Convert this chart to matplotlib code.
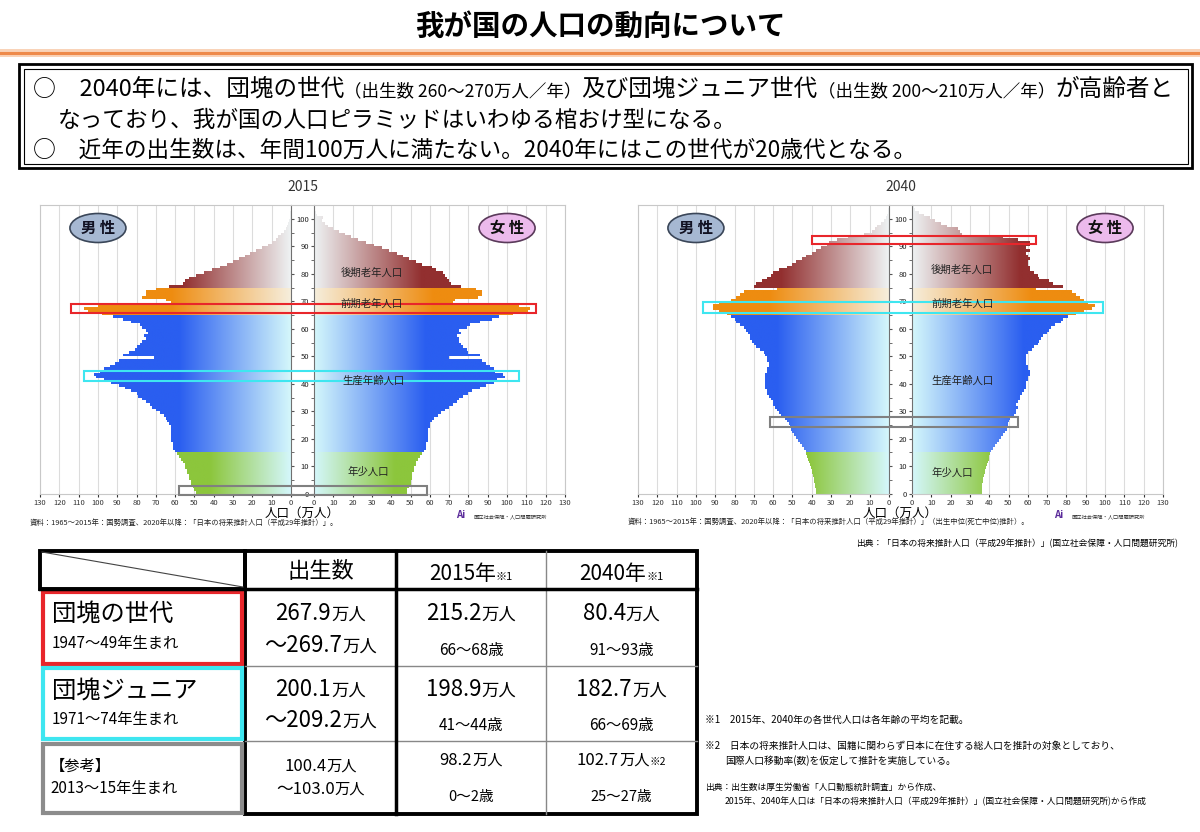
import numpy as np
import matplotlib
matplotlib.use('Agg')
import matplotlib.pyplot as plt
from matplotlib.patches import Rectangle, Ellipse, PathPatch
from matplotlib.path import Path
from matplotlib.colors import LinearSegmentedColormap

plt.rcParams['font.family'] = ['Noto Sans CJK JP', 'DejaVu Sans']

# population by single year of age (万人), ages 0..104
ages = np.arange(105)

male_2015 = [49, 50, 51, 52, 52, 53, 53, 54, 54, 55, 55, 56, 57, 58, 59,
             60, 61, 61, 61, 62, 62, 62, 62, 62, 62,
             63, 64, 65, 66, 68, 70, 72, 73, 75, 77,
             79, 80, 83, 86, 89, 93, 97, 101, 102, 99,
             97, 94, 91, 89, 71, 87, 84, 81, 80, 78,
             77, 75, 76, 74, 75, 77, 78, 83, 87, 92,
             98, 105, 107, 100, 62, 65, 77, 75, 75, 70,
             63, 56, 55, 53, 49, 45, 41, 37, 33, 30, 27, 24, 21, 18, 15,
             12, 10, 8, 6.5, 5, 3.8, 2.8, 2.0, 1.4, 1.0, 0.7, 0.4, 0.3, 0.2, 0.1]
female_2015 = [48, 48, 49, 50, 50, 51, 51, 51, 52, 52, 53, 53, 54, 55, 56,
               57, 58, 58, 58, 59, 59, 59, 59, 59, 60,
               60, 61, 62, 64, 66, 68, 70, 72, 74, 75,
               77, 80, 82, 86, 89, 93, 95, 99, 98, 94,
               93, 91, 89, 87, 70, 86, 80, 79, 77, 76,
               75, 75, 74, 76, 75, 79, 81, 86, 92, 96,
               103, 111, 112, 106, 72, 73, 85, 87, 87, 84,
               76, 71, 70, 69, 68, 67, 63, 61, 56, 53, 49, 46, 43, 39, 35,
               31, 27, 23, 19, 16, 13, 10, 7.5, 5.5, 4, 4.5, 1.5, 1.0, 0.6, 0.3]
male_2040 = [38, 38, 38.5, 38.5, 39, 39, 39.5, 40, 40, 40.5, 41, 41.5, 42, 42.5, 43,
             43, 44, 45, 46, 47, 48, 49, 50, 51, 51.5,
             52, 53, 54, 56, 57, 58, 59, 60, 60, 61,
             62, 63, 63, 64, 64, 64, 64, 64, 64, 63,
             63, 62, 62, 63, 63, 64, 65, 67, 69, 70,
             71, 72, 72, 73, 74, 75, 77, 79, 80, 82,
             84, 88, 91, 91, 88, 82, 79, 77, 75, 58,
             70, 69, 66, 63, 61, 60, 57, 53, 50, 48, 45, 43, 40, 38, 35,
             32, 31, 27, 21, 13, 9, 7, 6, 4, 2.5, 1.5, 1.0, 0.6, 0.4, 0.2]
female_2040 = [36, 36, 36.5, 36.5, 37, 37, 37.5, 38, 38, 38.5, 39, 39.5, 40, 40, 40.5,
               41, 42, 43, 44, 45, 46, 47, 48, 49, 49.5,
               49.5, 50, 51, 53, 54, 54, 55, 54, 55, 56,
               56, 57, 58, 59, 59, 59, 60, 60, 61, 61,
               60, 60, 59, 59, 59, 59, 60, 62, 63, 65,
               66, 67, 68, 70, 71, 72, 74, 77, 78, 81,
               85, 89, 93, 95, 91, 89, 87, 85, 83, 64,
               78, 73, 71, 66, 65, 63, 61, 61, 60, 60, 61, 60, 59, 61, 59,
               61, 61, 55, 47, 26, 25, 24, 18, 15, 12, 9.5, 6, 3.4, 1.7, 0.9]

# table contents
row_titles = ['団塊の世代', '団塊ジュニア', '【参考】']
row_years = ['1947～49年生まれ', '1971～74年生まれ', '2013～15年生まれ']
births_lo = ['267.9', '200.1', '100.4']
births_hi = ['～269.7', '～209.2', '～103.0']
pop_2015 = ['215.2', '198.9', '98.2']
age_2015 = ['66～68歳', '41～44歳', '0～2歳']
pop_2040 = ['80.4', '182.7', '102.7']
age_2040 = ['91～93歳', '66～69歳', '25～27歳']

# age groups: (from, to, inner colour, outer colour, gradient span)
groups = [(0, 15, '#d4f7fb', '#8cc63c', 42),
          (15, 65, '#d4f7fb', '#2a5ef0', 58),
          (65, 75, '#f6eedc', '#ee8c10', 62),
          (75, 105, '#eef2f3', '#922f2f', 56)]

W, H = 1200, 832
fig = plt.figure(figsize=(12, 8.32), dpi=100)


def px_axes(x0, x1, y0, y1):
    return fig.add_axes([x0 / W, 1 - y1 / H, (x1 - x0) / W, (y1 - y0) / H])


def draw_half(ax, values, left):
    vals = np.array(values, dtype=float)
    for lo, hi, inner, outer, span in groups:
        sel = (ages >= lo) & (ages < hi)
        bars = ax.barh(ages[sel], vals[sel], height=1.0, align='edge',
                       color='none', linewidth=0)
        paths = [b.get_path().transformed(b.get_patch_transform()) for b in bars]
        clip = PathPatch(Path.make_compound_path(*paths), transform=ax.transData,
                         facecolor='none', edgecolor='none')
        cmap = LinearSegmentedColormap.from_list('g', [inner, outer])
        grad = np.clip(np.linspace(0, 130, 400) / span, 0, 1)[None, :]
        im = ax.imshow(grad, cmap=cmap, vmin=0, vmax=1, extent=(0, 130, lo, hi),
                       aspect='auto', origin='lower', interpolation='bilinear', zorder=2)
        im.set_clip_path(clip)
    ax.set_xlim((130, 0) if left else (0, 130))
    ax.set_ylim(0, 105.1)
    ax.set_xticks(range(0, 131, 10))
    ax.tick_params(axis='x', labelsize=5.5, length=2, pad=1.5, colors='#333333')
    ax.grid(axis='x', color='#dcdcdc', lw=0.8)
    ax.set_axisbelow(True)
    ax.set_yticks(range(0, 101, 10))
    ax.set_yticks(range(0, 105, 5), minor=True)
    for s in ax.spines.values():
        s.set_color('#c8c8c8')
    if left:
        ax.yaxis.tick_right()
        ax.tick_params(axis='y', which='both', labelright=False, length=2.5, colors='#555555')
        ax.spines['right'].set_color('#707070')
    else:
        ax.tick_params(axis='y', which='both', labelsize=5.5, length=2.5, pad=1,
                       colors='#555555')
        ax.tick_params(axis='y', labelcolor='#222222')
        ax.spines['left'].set_color('#707070')


charts = [
    ('2015', male_2015, female_2015, 40, 291, 314, 565,
     '資料：1965～2015年：国勢調査、2020年以降：「日本の将来推計人口（平成29年推計）」。'),
    ('2040', male_2040, female_2040, 638, 889, 912, 1163,
     '資料：1965～2015年：国勢調査、2020年以降：「日本の将来推計人口（平成29年推計）」（出生中位(死亡中位)推計）。'),
]
pyr_axes = []
for year, m, f, lx0, lx1, rx0, rx1, src in charts:
    axl = px_axes(lx0, lx1, 205, 493.7)
    axr = px_axes(rx0, rx1, 205, 493.7)
    draw_half(axl, m, True)
    draw_half(axr, f, False)
    pyr_axes.append((axl, axr))

# overlay in pixel coordinates
ov = fig.add_axes([0, 0, 1, 1], zorder=5)
ov.set_xlim(0, W)
ov.set_ylim(H, 0)
ov.axis('off')
ov.patch.set_alpha(0)


def to_px(ax, x, y):
    return ov.transData.inverted().transform(ax.transData.transform((x, y)))


def seg_text(x, y, segs, ha='left', color='black', weight='normal'):
    r = fig.canvas.get_renderer()
    items = []
    cur = x
    for s, size in segs:
        t = ov.text(cur, y, s, fontsize=size, va='baseline', ha='left',
                    color=color, fontweight=weight)
        cur += t.get_window_extent(renderer=r).width
        items.append(t)
    total = cur - x
    if ha == 'center':
        for t in items:
            px_, py_ = t.get_position()
            t.set_position((px_ - total / 2, py_))
    return total


# title and rule
ov.text(600, 27, '我が国の人口の動向について', fontsize=20.5, fontweight='bold',
        ha='center', va='center')
ov.add_patch(Rectangle((0, 48.5), W, 8, color='#f9d3b8', lw=0))
ov.plot([0, W], [52.5, 52.5], color='#ee8a4a', lw=2.2)

# summary box
ov.add_patch(Rectangle((19, 64), 1173, 104, fill=False, ec='black', lw=2))
ov.add_patch(Rectangle((23.5, 68.5), 1164, 95, fill=False, ec='black', lw=0.8))
seg_text(33, 96, [('○', 16.5), ('　2040年には、団塊の世代', 17),
                  ('（出生数 260～270万人／年）', 12.6),
                  ('及び団塊ジュニア世代', 17),
                  ('（出生数 200～210万人／年）', 12.6),
                  ('が高齢者と', 17)])
seg_text(58, 127, [('なっており、我が国の人口ピラミッドはいわゆる棺おけ型になる。', 16.3)])
seg_text(33, 157, [('○', 16.5), ('　近年の出生数は、年間100万人に満たない。2040年にはこの世代が20歳代となる。', 16.3)])

# pyramid decorations
label_pos = [[(30, 80.5), (30, 69.3), (31, 41), (28, 8)],
             [(26, 81.7), (26, 69.0), (26, 41), (21, 7.5)]]
group_names = ['後期老年人口', '前期老年人口', '生産年齢人口', '年少人口']
boxes = [[(114, 115, 65.7, 69.2, '#e8262b'), (107, 106, 41.0, 44.8, '#3ee6f0'),
          (58, 58.5, -0.4, 2.9, '#808080')],
         [(40, 64, 90.9, 93.9, '#e8262b'), (96.5, 99, 65.7, 69.9, '#3ee6f0'),
          (61.7, 54.8, 24.4, 27.8, '#808080')]]
for i, (year, m, f, lx0, lx1, rx0, rx1, src) in enumerate(charts):
    axl, axr = pyr_axes[i]
    mid = (lx1 + rx0) / 2
    ov.plot([lx1, rx0], [205, 205], color='#c8c8c8', lw=0.8)
    ov.text(mid, 187, year, fontsize=10, ha='center', va='center', color='#333333')
    ov.text(mid, 513, '人口（万人）', fontsize=9, ha='center', va='center')
    ov.text(lx0 - 10, 523, src, fontsize=5.3, ha='left', va='center', color='#222222')
    ov.text(rx1 - 18, 517, '国立社会保障・人口問題研究所', fontsize=3.8, ha='right',
            va='center', color='#333333')
    ov.text(rx1 - 100, 515, 'Ai', fontsize=7, fontstyle='italic', fontweight='bold',
            ha='right', va='center', color='#5a2a9a')
    # gender ovals
    mx = to_px(axl, 100, 0)[0]
    fx = to_px(axr, 100, 0)[0]
    ov.add_patch(Ellipse((mx, 228), 56, 29, fc='#a6b8d2', ec='#3a4658', lw=1.2))
    ov.text(mx, 228, '男 性', fontsize=11, fontweight='bold', ha='center', va='center',
            color='#111122')
    ov.add_patch(Ellipse((fx, 228), 56, 29, fc='#ecbaec', ec='#5a3a5a', lw=1.2))
    ov.text(fx, 228, '女 性', fontsize=11, fontweight='bold', ha='center', va='center',
            color='#111111')
    for name, (gx, gy) in zip(group_names, label_pos[i]):
        px_, py_ = to_px(axr, gx, gy)
        ov.text(px_, py_, name, fontsize=7.5, ha='center', va='center', color='#222222')
    for xl, xr, y0, y1, col in boxes[i]:
        x0p, y0p = to_px(axl, xl, y1)
        x1p, y1p = to_px(axr, xr, y0)
        ov.add_patch(Rectangle((x0p, y0p), x1p - x0p, y1p - y0p, fill=False, ec=col, lw=1.5))

ov.text(1178, 543, '出典：「日本の将来推計人口（平成29年推計）」(国立社会保障・人口問題研究所)',
        fontsize=6.3, ha='right', va='center')

# table
tx = [40, 245, 396, 546, 697]
ty = [551, 589, 666, 741, 814]
col_c = [(tx[1] + tx[2]) / 2, (tx[2] + tx[3]) / 2, (tx[3] + tx[4]) / 2]
for y in ty[2:4]:
    ov.plot([tx[1], tx[4]], [y, y], color='#888888', lw=1)
ov.plot([tx[3], tx[3]], [ty[0], ty[4]], color='#888888', lw=1)
ov.plot([tx[0], tx[4]], [ty[1], ty[1]], color='black', lw=2.5)
ov.plot([tx[2], tx[2]], [ty[0], ty[4]], color='black', lw=2.5)
ov.add_patch(Rectangle((tx[1], ty[0]), tx[4] - tx[1], ty[4] - ty[0], fill=False, ec='black', lw=2.8))
ov.add_patch(Rectangle((tx[0], ty[0]), tx[1] - tx[0], ty[1] - ty[0], fill=False, ec='black', lw=2.8))
ov.plot([tx[0] + 2, tx[1] - 2], [ty[0] + 1, ty[1] - 2], color='#444444', lw=0.8)
for (y0, y1), col in zip([(592, 664), (668, 739), (744, 813)], ['#e8262b', '#3ee6f0', '#8c8c8c']):
    ov.add_patch(Rectangle((43, y0), 199, y1 - y0, fill=False, ec=col, lw=3))

ov.text(col_c[0], 571, '出生数', fontsize=16, ha='center', va='center')
seg_text(col_c[1], 580, [('2015年', 15), ('※1', 8)], ha='center')
seg_text(col_c[2], 580, [('2040年', 15), ('※1', 8)], ha='center')

title_bl = [(621, 648), (698, 724), (771, 793)]
num_bl = [(620, 652), (696, 727), (771, 794)]
age_bl = [(620, 655), (696, 730), (765, 801)]
for i in range(3):
    big = i < 2
    tsz, ysz = (17.5, 11) if big else (11, 11)
    tx0 = 52 if big else 50
    ov.text(tx0, title_bl[i][0], row_titles[i], fontsize=tsz, va='baseline')
    ov.text(tx0, title_bl[i][1], row_years[i], fontsize=ysz, va='baseline')
    nsz, usz, asz = (16, 12.5, 11) if big else (12, 11, 10.5)
    seg_text(col_c[0], num_bl[i][0], [(births_lo[i], nsz), ('万人', usz)], ha='center')
    seg_text(col_c[0], num_bl[i][1], [(births_hi[i], nsz), ('万人', usz)], ha='center')
    seg_text(col_c[1], age_bl[i][0], [(pop_2015[i], nsz), ('万人', usz)], ha='center')
    ov.text(col_c[1], age_bl[i][1], age_2015[i], fontsize=asz, ha='center', va='baseline')
    segs = [(pop_2040[i], nsz), ('万人', usz)]
    if not big:
        segs.append(('※2', 7.5))
    seg_text(col_c[2], age_bl[i][0], segs, ha='center')
    ov.text(col_c[2], age_bl[i][1], age_2040[i], fontsize=asz, ha='center', va='baseline')

# footnotes
notes = [(705, 720, '※1　2015年、2040年の各世代人口は各年齢の平均を記載。', 7),
         (705, 746, '※2　日本の将来推計人口は、国籍に関わらず日本に在住する総人口を推計の対象としており、', 7),
         (725, 761, '国際人口移動率(数)を仮定して推計を実施している。', 7),
         (705, 787, '出典：出生数は厚生労働省「人口動態統計調査」から作成、', 6.3),
         (725, 801, '2015年、2040年人口は「日本の将来推計人口（平成29年推計）」(国立社会保障・人口問題研究所)から作成', 6.3)]
for x, y, s, size in notes:
    ov.text(x, y, s, fontsize=size, ha='left', va='center')

fig.savefig('out.png', dpi=100)
